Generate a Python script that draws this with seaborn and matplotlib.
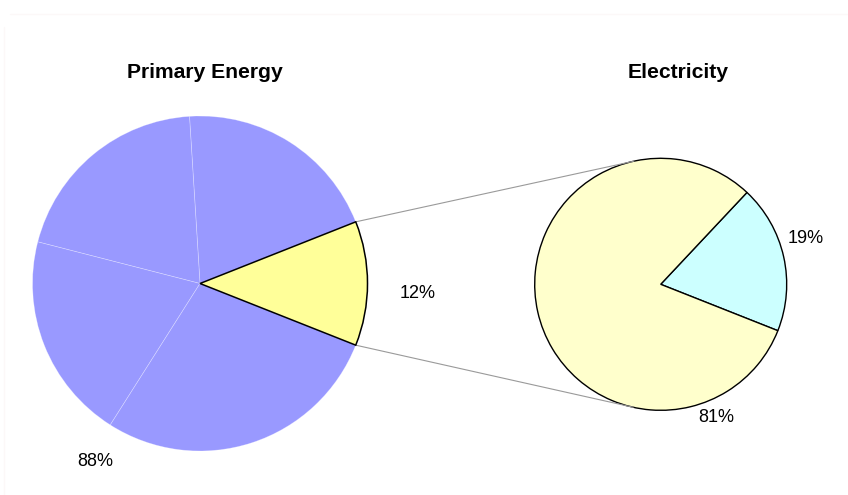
import numpy as np
import matplotlib
matplotlib.use("Agg")
import matplotlib.pyplot as plt
import seaborn as sns

# ---- data ----
primary_values = [12, 20, 20, 20, 28]          # electricity share first, remaining 88% in parts
primary_colors = ["#FFFF99", "#9999FF", "#9999FF", "#9999FF", "#9999FF"]
elec_values = [19, 81]
elec_colors = ["#CCFFFF", "#FFFFCC"]
titles = ["Primary Energy", "Electricity"]
primary_labels = ["12%", "88%"]
elec_labels = ["19%", "81%"]

sns.set_theme(style="white")
plt.rcParams["font.family"] = ["Liberation Sans", "DejaVu Sans"]

W, H = 848, 495
fig = plt.figure(figsize=(W / 100, H / 100), dpi=100)
fig.patch.set_facecolor("white")
ax = fig.add_axes([0, 0, 1, 1])
ax.set_xlim(0, W)
ax.set_ylim(0, H)
ax.set_aspect("equal")
ax.axis("off")

def Y(y_img):
    return H - y_img

# faint outer frame
ax.plot([10, W], [Y(14), Y(14)], color="#fcf8f8", lw=1, clip_on=False)
ax.plot([4, 4], [Y(27), 0], color="#fcf8f8", lw=1, clip_on=False)

# left pie
lc = (200.0, Y(283.5)); lr = 167.5
wl, _ = ax.pie(primary_values, colors=primary_colors, startangle=-21.6,
               counterclock=True, center=lc, radius=lr,
               wedgeprops=dict(edgecolor=(1, 1, 1, 0.35), linewidth=0.5))
wl[0].set_edgecolor("black")
wl[0].set_linewidth(1.1)
wl[0].set_zorder(5)

# right pie
rc = (660.7, Y(284.3)); rr = 126.0
wr, _ = ax.pie(elec_values, colors=elec_colors, startangle=-21.6,
               counterclock=True, center=rc, radius=rr,
               wedgeprops=dict(edgecolor="black", linewidth=1.0))

# reset limits (pie may change them)
ax.set_xlim(0, W)
ax.set_ylim(0, H)
ax.set_aspect("equal")

# connector lines: from edge points of the highlighted wedge, tangent to right pie
w0 = wl[0]
pts = []
for th in (w0.theta1, w0.theta2):
    pts.append(np.array([lc[0] + lr * np.cos(np.radians(th)),
                         lc[1] + lr * np.sin(np.radians(th))]))
C = np.array(rc)
for P, pick in zip(pts, (min, max)):
    v = P - C
    d = np.hypot(*v)
    phi = np.arctan2(v[1], v[0])
    a = np.arccos(rr / d)
    cands = [C + rr * np.array([np.cos(phi + s * a), np.sin(phi + s * a)]) for s in (-1, 1)]
    T = pick(cands, key=lambda q: q[1])
    ax.plot([P[0], T[0]], [P[1], T[1]], color="#9a9a9a", lw=0.8, zorder=1)

# titles
ax.text(204.7, Y(78.3), titles[0], ha="center", va="baseline",
        fontsize=15.2, fontweight="bold", color="black")
ax.text(678, Y(78.3), titles[1], ha="center", va="baseline",
        fontsize=15.2, fontweight="bold", color="black")

# percentage labels
lab_kw = dict(ha="center", va="center", fontsize=13, color="black")
ax.text(418, Y(294), primary_labels[0], **lab_kw)
ax.text(95, Y(461.7), primary_labels[1], **lab_kw)
ax.text(806, Y(238.5), elec_labels[0], **lab_kw)
ax.text(716, Y(418), elec_labels[1], **lab_kw)

fig.savefig("out.png", dpi=100, facecolor="white")
